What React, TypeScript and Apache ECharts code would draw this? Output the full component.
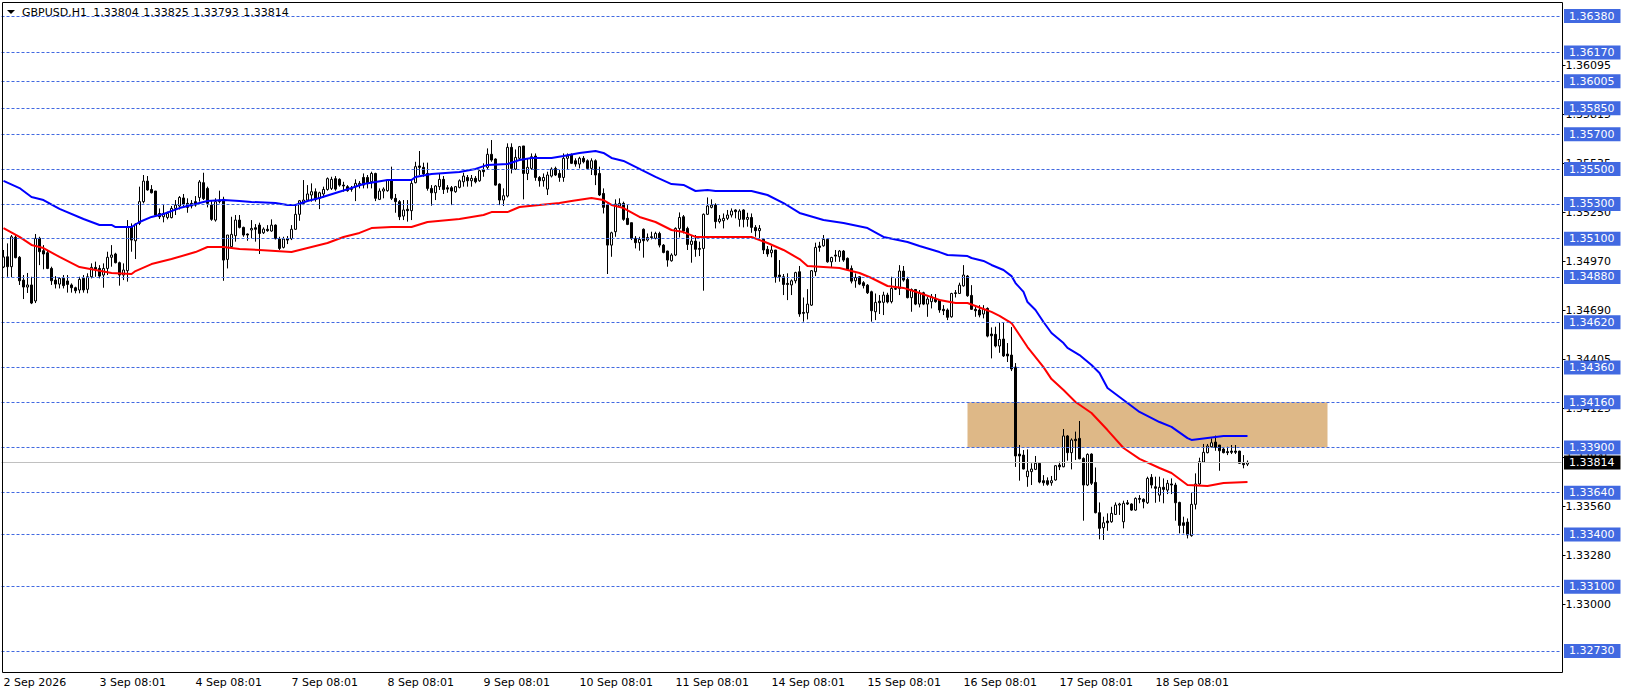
import React, { useEffect, useRef } from "react";
import * as echarts from "echarts";

// one label every 24 hourly bars
const tickLabels = [
  "2 Sep 2026", "3 Sep 08:01", "4 Sep 08:01", "7 Sep 08:01", "8 Sep 08:01", "9 Sep 08:01", "10 Sep 08:01",
  "11 Sep 08:01", "14 Sep 08:01", "15 Sep 08:01", "16 Sep 08:01", "17 Sep 08:01", "18 Sep 08:01",
];
const priceTicks = [1.36095, 1.35815, 1.35535, 1.3525, 1.3497, 1.3469, 1.34405, 1.34125, 1.33845, 1.3356, 1.3328, 1.33];
const levels = [1.3638, 1.3617, 1.36005, 1.3585, 1.357, 1.355, 1.353, 1.351, 1.3488, 1.3462, 1.3436, 1.3416, 1.339, 1.3364, 1.334, 1.331, 1.3273];
const lastPrice = 1.33814;
const titleName = "GBPUSD,H1";
const titleValues = ["1.33804", "1.33825", "1.33793", "1.33814"];
const zoneBars = [241, 331];
const zonePrices = [1.3416, 1.339];

// open, close, low, high
const ohlc = [
  [1.34937,1.34995,1.34931,1.35035],[1.34996,1.34939,1.34881,1.35073],[1.34939,1.35111,1.34879,1.35121],[1.35108,1.34991,1.34987,1.35121],
  [1.34993,1.34858,1.34834,1.35],[1.34862,1.34822,1.34753,1.34891],[1.34822,1.34834,1.34788,1.34903],[1.34834,1.3473,1.34724,1.34881],
  [1.34742,1.35102,1.3473,1.35127],[1.35102,1.35025,1.34948,1.35111],[1.35031,1.35012,1.34924,1.35063],[1.35019,1.34929,1.34925,1.35035],
  [1.34929,1.34858,1.34834,1.34939],[1.34862,1.34839,1.34814,1.34885],[1.34839,1.34872,1.34814,1.34878],[1.34872,1.3483,1.34814,1.34891],
  [1.34857,1.34837,1.3479,1.34891],[1.34834,1.34818,1.3479,1.34843],[1.34818,1.34801,1.34786,1.34824],[1.34805,1.34866,1.34786,1.34881],
  [1.34872,1.34805,1.3479,1.34891],[1.34809,1.34881,1.34786,1.34901],[1.34881,1.34935,1.34872,1.34958],[1.34935,1.34924,1.34881,1.34968],
  [1.34929,1.34885,1.34872,1.34948],[1.34891,1.34929,1.34818,1.34958],[1.34929,1.34993,1.34891,1.35025],[1.34993,1.35006,1.34939,1.35063],
  [1.35012,1.34962,1.34958,1.35019],[1.34962,1.34891,1.3483,1.34968],[1.34891,1.3492,1.34862,1.34958],[1.34916,1.35165,1.34853,1.35207],
  [1.35169,1.35092,1.35025,1.35188],[1.35088,1.35184,1.34983,1.35188],[1.35188,1.35313,1.35178,1.35399],[1.35313,1.35431,1.35303,1.35466],
  [1.35431,1.3538,1.35376,1.3546],[1.35383,1.35364,1.3536,1.35408],[1.35374,1.35236,1.35226,1.35374],[1.35245,1.35226,1.35213,1.35274],
  [1.35226,1.35245,1.35194,1.35293],[1.35222,1.35245,1.35211,1.35255],[1.35221,1.35274,1.35217,1.35288],[1.35274,1.35293,1.35236,1.35322],
  [1.35288,1.35337,1.35268,1.35345],[1.35334,1.35299,1.3528,1.35357],[1.35303,1.3528,1.35249,1.35332],[1.35303,1.35288,1.35274,1.35322],
  [1.35313,1.35293,1.35284,1.35345],[1.35337,1.35426,1.35313,1.35437],[1.35422,1.3533,1.35322,1.35479],[1.35389,1.35303,1.3528,1.35399],
  [1.35293,1.35211,1.35203,1.35322],[1.35207,1.35313,1.35198,1.35332],[1.35313,1.35322,1.35303,1.35376],[1.35326,1.34977,1.34858,1.35341],
  [1.34981,1.35121,1.34929,1.35121],[1.35054,1.35125,1.35044,1.35226],[1.35117,1.35207,1.35083,1.35236],[1.35207,1.35165,1.35159,1.35236],
  [1.35165,1.35121,1.35111,1.35169],[1.35127,1.35121,1.35088,1.3513],[1.3515,1.35159,1.35102,1.35207],[1.35163,1.35154,1.35083,1.35184],
  [1.35178,1.3513,1.35012,1.35192],[1.35134,1.35155,1.35127,1.35165],[1.35154,1.35146,1.3514,1.35178],[1.35144,1.35178,1.3514,1.35211],
  [1.35178,1.351,1.35096,1.35182],[1.35098,1.35044,1.35035,1.35111],[1.3505,1.35098,1.35044,1.35111],[1.351,1.35092,1.35069,1.35115],
  [1.351,1.35154,1.35092,1.35178],[1.35154,1.3524,1.3515,1.35293],[1.3524,1.35318,1.35203,1.35322],[1.35303,1.35322,1.35293,1.35437],
  [1.35322,1.35357,1.35313,1.35408],[1.35351,1.3537,1.35313,1.35418],[1.3537,1.35326,1.35313,1.35389],[1.35332,1.35364,1.3527,1.3537],
  [1.35357,1.35383,1.35337,1.35399],[1.35383,1.35445,1.35376,1.35452],[1.35389,1.35441,1.3538,1.35456],[1.35445,1.35385,1.35376,1.3546],
  [1.35441,1.35408,1.35399,1.35447],[1.35408,1.35403,1.3537,1.35427],[1.35399,1.35376,1.3537,1.35408],[1.35383,1.35389,1.3537,1.35403],
  [1.35399,1.35418,1.35316,1.35441],[1.35408,1.35418,1.35389,1.35431],[1.35452,1.35408,1.35389,1.35475],[1.35452,1.35418,1.35389,1.35466],
  [1.35427,1.35475,1.35389,1.35485],[1.35475,1.35332,1.35316,1.35479],[1.35326,1.35374,1.35322,1.35389],[1.35374,1.35385,1.35332,1.35395],
  [1.35376,1.35437,1.3537,1.35441],[1.35437,1.35332,1.35322,1.35514],[1.35332,1.35313,1.35249,1.35357],[1.35313,1.35226,1.35207,1.35322],
  [1.3523,1.35265,1.35207,1.35322],[1.35269,1.35261,1.35198,1.35322],[1.35261,1.35418,1.35207,1.35433],[1.35422,1.35514,1.35418,1.35542],
  [1.35518,1.3551,1.35466,1.35604],[1.3551,1.35472,1.35456,1.35537],[1.35475,1.35389,1.35376,1.35537],[1.35389,1.35364,1.3529,1.35408],
  [1.35364,1.35403,1.35322,1.35408],[1.35399,1.35441,1.3538,1.35475],[1.35441,1.35383,1.35357,1.3546],[1.35393,1.35385,1.35364,1.35408],
  [1.35393,1.35374,1.35293,1.35403],[1.3537,1.35399,1.35364,1.35403],[1.35395,1.35433,1.35389,1.35441],[1.35427,1.3546,1.35399,1.35479],
  [1.35452,1.35433,1.35399,1.35466],[1.35433,1.35447,1.35399,1.35466],[1.35447,1.35427,1.35418,1.3546],[1.35433,1.35491,1.35427,1.35495],
  [1.35495,1.35485,1.35456,1.35533],[1.3551,1.35585,1.35495,1.35619],[1.35585,1.35552,1.35542,1.35667],[1.35558,1.35408,1.35405,1.35562],
  [1.35414,1.35322,1.35293,1.35418],[1.35322,1.35347,1.35288,1.35389],[1.35345,1.35625,1.35337,1.35648],[1.35625,1.35504,1.35475,1.35648],
  [1.355,1.35567,1.35495,1.35613],[1.35562,1.35629,1.35552,1.35633],[1.35633,1.35475,1.35326,1.35633],[1.35475,1.3551,1.35437,1.35562],
  [1.35504,1.35571,1.35495,1.3559],[1.35575,1.35452,1.35433,1.3559],[1.35452,1.35433,1.35399,1.3546],[1.35433,1.35452,1.35399,1.35475],
  [1.35385,1.35466,1.35351,1.35485],[1.3546,1.355,1.35452,1.3551],[1.35504,1.35466,1.3546,1.35514],[1.35475,1.35452,1.35427,1.35495],
  [1.35452,1.35562,1.35427,1.3559],[1.35562,1.35575,1.35495,1.3559],[1.35581,1.35533,1.35529,1.3559],[1.35548,1.35529,1.35514,1.35562],
  [1.35529,1.35562,1.35504,1.35571],[1.35562,1.35542,1.35533,1.35575],[1.35548,1.35504,1.35495,1.35556],[1.35504,1.35548,1.35466,1.35562],
  [1.35548,1.35466,1.35408,1.35556],[1.35475,1.35351,1.35345,1.35514],[1.3536,1.3528,1.35245,1.35389],[1.35293,1.35063,1.34897,1.35303],
  [1.35063,1.35134,1.34996,1.3514],[1.3514,1.35299,1.35111,1.35326],[1.35288,1.35303,1.3528,1.35332],[1.35303,1.35211,1.35203,1.35313],
  [1.35217,1.35182,1.35178,1.35293],[1.35192,1.35102,1.35092,1.35192],[1.35102,1.35077,1.35044,1.35115],[1.35077,1.35096,1.35031,1.35111],
  [1.35154,1.35088,1.34991,1.35159],[1.35092,1.35107,1.35083,1.3513],[1.35111,1.35107,1.35096,1.3514],[1.35102,1.3513,1.35096,1.3514],
  [1.3513,1.35063,1.3505,1.3514],[1.35063,1.35021,1.35016,1.35069],[1.35029,1.34977,1.34939,1.35031],[1.34973,1.35006,1.34968,1.35016],
  [1.35006,1.35159,1.35,1.35165],[1.35159,1.35222,1.35107,1.35251],[1.35226,1.35144,1.3513,1.35236],[1.35159,1.35067,1.35035,1.35169],
  [1.35067,1.35086,1.34962,1.35121],[1.35086,1.35039,1.34996,1.35121],[1.35044,1.35039,1.35,1.35083],[1.35044,1.3524,1.34801,1.35245],
  [1.3524,1.35288,1.35236,1.35337],[1.3528,1.35293,1.35274,1.35326],[1.35293,1.35198,1.35159,1.35303],[1.35199,1.35213,1.35188,1.35236],
  [1.35203,1.35217,1.35159,1.35245],[1.35217,1.35236,1.35207,1.35265],[1.35236,1.35259,1.35222,1.35274],[1.35265,1.35255,1.35217,1.35269],
  [1.35211,1.35259,1.35169,1.35269],[1.35265,1.35211,1.35165,1.35269],[1.35211,1.35222,1.35169,1.35249],[1.35222,1.35165,1.35134,1.35245],
  [1.35165,1.35146,1.35111,1.35178],[1.35146,1.35159,1.35102,1.35178],[1.35096,1.35035,1.35012,1.35102],[1.35039,1.35012,1.34996,1.35058],
  [1.35019,1.35035,1.34993,1.35058],[1.35035,1.34881,1.34847,1.35035],[1.34891,1.34881,1.34853,1.34977],[1.34881,1.34837,1.34776,1.34897],
  [1.34843,1.34837,1.34747,1.34901],[1.34834,1.34858,1.34776,1.34866],[1.34858,1.34905,1.34843,1.3491],[1.3491,1.34667,1.34651,1.34943],
  [1.34676,1.34671,1.34623,1.34762],[1.34674,1.34724,1.34636,1.3481],[1.34718,1.34916,1.34713,1.3492],[1.3491,1.3505,1.34885,1.35077],
  [1.35058,1.3505,1.35025,1.35082],[1.35059,1.35096,1.35054,1.35121],[1.35096,1.34967,1.34962,1.35102],[1.34967,1.34992,1.34935,1.34996],
  [1.35006,1.35,1.34967,1.35035],[1.34996,1.35029,1.34967,1.35035],[1.35029,1.34977,1.34967,1.35035],[1.34987,1.34923,1.3492,1.34992],
  [1.34929,1.34856,1.34843,1.34946],[1.34858,1.34877,1.34818,1.349],[1.34881,1.34839,1.34833,1.34885],[1.34847,1.3483,1.34814,1.34856],
  [1.34833,1.34789,1.34782,1.34839],[1.34795,1.34686,1.34623,1.34801],[1.3468,1.34734,1.34632,1.34785],[1.34741,1.34732,1.34667,1.34776],
  [1.34734,1.34776,1.34661,1.34795],[1.34776,1.34736,1.34728,1.34789],[1.34738,1.34814,1.34728,1.34881],[1.34814,1.3481,1.34805,1.34872],
  [1.34814,1.34914,1.34776,1.34948],[1.34914,1.34862,1.34853,1.34943],[1.34866,1.34761,1.34757,1.34881],[1.34761,1.34808,1.3468,1.34814],
  [1.34808,1.34724,1.34718,1.3481],[1.34724,1.34785,1.34705,1.34805],[1.34789,1.34724,1.34718,1.34795],[1.34724,1.34753,1.34651,1.34766],
  [1.34738,1.34766,1.34699,1.34782],[1.34757,1.34738,1.34732,1.34782],[1.34747,1.3469,1.34674,1.34751],[1.34694,1.34686,1.34661,1.34718],
  [1.3469,1.34648,1.34632,1.34699],[1.34651,1.34785,1.34646,1.34789],[1.34789,1.34785,1.34762,1.34805],[1.34785,1.34833,1.34782,1.34847],
  [1.34829,1.34891,1.34824,1.34948],[1.34885,1.34772,1.34766,1.34891],[1.34774,1.34694,1.3469,1.34833],[1.34694,1.34686,1.34651,1.34718],
  [1.3469,1.34661,1.34648,1.34718],[1.34667,1.34694,1.34642,1.34718],[1.34699,1.3454,1.34533,1.34705],[1.34552,1.34542,1.34412,1.3459],
  [1.3455,1.34483,1.34475,1.34594],[1.34483,1.34521,1.34444,1.34617],[1.34523,1.34426,1.3442,1.34621],[1.34437,1.34426,1.34391,1.345],
  [1.34431,1.34351,1.34339,1.34592],[1.34362,1.33851,1.33788,1.34385],[1.33862,1.33851,1.33709,1.33914],[1.33856,1.33776,1.33774,1.33885],
  [1.33732,1.33764,1.33674,1.33889],[1.33761,1.33776,1.33684,1.33809],[1.33774,1.33809,1.3377,1.33851],[1.33809,1.33701,1.33694,1.33812],
  [1.33709,1.33697,1.3368,1.33741],[1.33709,1.33688,1.3368,1.33728],[1.33697,1.33709,1.3368,1.33736],[1.33713,1.33795,1.33709,1.33799],
  [1.33799,1.33789,1.3377,1.33818],[1.33789,1.33966,1.33786,1.34006],[1.33966,1.3387,1.33824,1.33971],[1.3387,1.33943,1.33774,1.33952],
  [1.33947,1.33939,1.33828,1.33991],[1.33952,1.33835,1.33832,1.34052],[1.33837,1.33684,1.33479,1.33843],[1.33684,1.3386,1.33678,1.33866],
  [1.33862,1.33694,1.33684,1.33866],[1.33699,1.33525,1.33521,1.33785],[1.33525,1.33435,1.33372,1.33584],[1.33439,1.33467,1.33368,1.33502],
  [1.33477,1.33467,1.33421,1.33521],[1.33473,1.33521,1.33467,1.33559],[1.33515,1.33569,1.33512,1.33584],[1.33569,1.33575,1.33512,1.33582],
  [1.33473,1.33579,1.33435,1.33594],[1.33582,1.33575,1.33569,1.33598],[1.33575,1.3354,1.33536,1.33579],[1.3354,1.33607,1.33536,1.33613],
  [1.33607,1.33602,1.33579,1.33626],[1.33602,1.33588,1.3355,1.33607],[1.33582,1.33722,1.33575,1.33732],[1.33728,1.33684,1.33665,1.33747],
  [1.33674,1.33665,1.33582,1.33732],[1.33626,1.33671,1.33588,1.33732],[1.33671,1.33659,1.33579,1.33722],[1.33655,1.33694,1.33632,1.33713],
  [1.3369,1.33684,1.33632,1.33722],[1.33684,1.33582,1.33479,1.33697],[1.33584,1.33452,1.33406,1.33588],[1.33467,1.33452,1.33406,1.33502],
  [1.33471,1.33397,1.33377,1.33492],[1.33393,1.33573,1.33387,1.3364],[1.33573,1.3369,1.33544,1.33751],[1.3369,1.33818,1.33684,1.33841],
  [1.33816,1.33872,1.33812,1.3392],[1.3387,1.33908,1.33866,1.3392],[1.33904,1.33927,1.339,1.33952],[1.33931,1.339,1.33881,1.33968],
  [1.33914,1.33881,1.33766,1.33914],[1.33891,1.3387,1.33866,1.339],[1.33876,1.3387,1.33856,1.33904],[1.33879,1.33872,1.33862,1.33914],
  [1.33879,1.33872,1.33862,1.33914],[1.33879,1.33809,1.33805,1.33881],[1.33809,1.33801,1.3378,1.33856],[1.33804,1.33814,1.33793,1.33825],
];

// moving averages as [bar, price]
const blueMa = [
  [0,1.35432],[4,1.35391],[7,1.3534],[10,1.35322],[14,1.35271],[20,1.35213],[24,1.35179],[27,1.35179],[28,1.35167],[32,1.35167],
  [34,1.35196],[37,1.35225],[40,1.35242],[44,1.35276],[48,1.35299],[51,1.35317],[55,1.35322],[59,1.35317],[62,1.35311],[68,1.35305],
  [71,1.35294],[73,1.35294],[76,1.35317],[79,1.35334],[83,1.35363],[87,1.35391],[90,1.35414],[93,1.35426],[96,1.35437],[99,1.35437],
  [102,1.35437],[103,1.35455],[107,1.35472],[114,1.35483],[118,1.35501],[121,1.35524],[126,1.35529],[129,1.35552],[132,1.35564],[137,1.35564],
  [140,1.35575],[144,1.35593],[148,1.35604],[150,1.35593],[152,1.35564],[155,1.35547],[159,1.35501],[163,1.35455],[167,1.35414],[170,1.35409],
  [173,1.35374],[176,1.3538],[178,1.35374],[187,1.35374],[191,1.35351],[195,1.35305],[199,1.35248],[205,1.35207],[210,1.3519],[216,1.35161],
  [220,1.3511],[226,1.35081],[229,1.35058],[234,1.35023],[236,1.35006],[241,1.35],[242,1.34989],[245,1.34972],[247,1.34949],[250,1.3492],
  [252,1.34885],[253,1.34845],[255,1.34794],[256,1.34736],[258,1.3469],[260,1.34621],[262,1.34558],[265,1.345],[266,1.34472],[269,1.34431],
  [272,1.34374],[274,1.34328],[276,1.34242],[280,1.34173],[284,1.34104],[289,1.34046],[292,1.34018],[296,1.33954],[297,1.33943],[299,1.33949],
  [305,1.33966],[311,1.33966],
];
const redMa = [
  [0,1.35161],[4,1.3511],[7,1.35064],[10,1.35046],[14,1.34995],[19,1.34937],[23,1.3492],[27,1.34903],[32,1.34897],[33,1.34914],
  [37,1.34954],[42,1.34983],[48,1.35023],[51,1.35052],[55,1.35052],[59,1.35041],[64,1.35035],[68,1.35029],[72,1.35023],[77,1.35052],
  [81,1.35075],[85,1.3511],[89,1.35133],[92,1.35161],[97,1.35167],[102,1.35167],[106,1.35196],[114,1.35213],[120,1.35236],[122,1.35253],
  [126,1.35253],[129,1.35282],[134,1.35294],[139,1.35305],[142,1.35317],[147,1.35334],[150,1.35322],[152,1.35294],[155,1.35276],[159,1.35225],
  [163,1.35196],[167,1.3515],[170,1.35138],[173,1.3511],[177,1.3511],[187,1.3511],[191,1.35075],[195,1.35035],[199,1.34983],[201,1.34943],
  [205,1.34937],[209,1.34931],[214,1.34903],[217,1.34874],[221,1.34828],[225,1.34817],[229,1.34788],[234,1.34748],[238,1.3473],[241,1.3473],
  [245,1.34696],[247,1.34679],[249,1.34656],[252,1.34615],[254,1.34546],[256,1.34477],[260,1.34362],[262,1.34293],[265,1.3423],[268,1.34161],
  [272,1.34098],[276,1.34],[280,1.33897],[284,1.33834],[289,1.33782],[292,1.33753],[296,1.33684],[301,1.33678],[305,1.33696],[311,1.33701],
];

const barSlots = 390; // bars that fit the window, the chart stops short of the right edge
const categories = Array.from({ length: barSlots }, (_, i) => String(i));
const isLabelBar = (i: number) => i % 24 === 0 && i / 24 < tickLabels.length;
const font = "DejaVu Sans";

const App: React.FC = () => {
  const chartRef = useRef<HTMLDivElement>(null);

  useEffect(() => {
    if (!chartRef.current) return;
    document.body.style.margin = "0";

    const chart = echarts.init(chartRef.current, undefined, { renderer: "svg" });

    const option: echarts.EChartsOption = {
      animation: false,
      backgroundColor: "#fff",
      grid: { left: 1.5, top: 2.5, width: 1560, height: 670 },
      xAxis: {
        type: "category",
        data: categories,
        axisLine: { show: false },
        axisTick: { length: 3, alignWithLabel: true, interval: (i: number) => isLabelBar(i), lineStyle: { color: "#000" } },
        axisLabel: {
          interval: (i: number) => isLabelBar(i),
          formatter: (_: string, i: number) => tickLabels[i / 24] ?? "",
          align: "left",
          margin: 4,
          color: "#000",
          fontFamily: font,
          fontSize: 11,
        },
        splitLine: { show: false },
      },
      yAxis: {
        type: "value",
        position: "right",
        offset: 1,
        min: 1.326064,
        max: 1.364576,
        axisLine: { show: false },
        axisTick: { show: true, length: 3, customValues: priceTicks, lineStyle: { color: "#000" } },
        axisLabel: {
          customValues: priceTicks,
          formatter: (v: number) => v.toFixed(5),
          margin: 3,
          color: "#000",
          fontFamily: font,
          fontSize: 11,
        },
        splitLine: { show: false },
      },
      series: [
        {
          name: "Zone",
          type: "line",
          data: [],
          z: 1,
          clip: false,
          silent: true,
          markArea: {
            silent: true,
            itemStyle: { color: "#DEB887", opacity: 1 },
            data: [[{ xAxis: zoneBars[0], yAxis: zonePrices[0] }, { xAxis: zoneBars[1], yAxis: zonePrices[1] }]],
          },
        },
        {
          name: "Levels",
          type: "line",
          data: [],
          z: 2,
          clip: false,
          silent: true,
          markLine: {
            silent: true,
            symbol: "none",
            precision: 5,
            lineStyle: { color: "#4169E1", type: [3, 2], width: 1 },
            label: {
              show: true,
              position: "end",
              distance: 2.5,
              formatter: (p: any) => Number(p.value).toFixed(5),
              color: "#fff",
              backgroundColor: "#4169E1",
              fontFamily: font,
              fontSize: 11,
              lineHeight: 12,
              padding: [2, 6, 0, 5],
            },
            data: [
              ...levels.map((v) => ({ yAxis: v })),
              {
                yAxis: lastPrice,
                lineStyle: { color: "#C0C0C0", type: "solid", width: 1 },
                label: { backgroundColor: "#000", color: "#fff" },
              },
            ],
          },
        },
        {
          name: "GBPUSD",
          type: "candlestick",
          data: ohlc,
          barWidth: 2,
          z: 3,
          itemStyle: { color: "#fff", color0: "#000", borderColor: "#000", borderColor0: "#000", borderWidth: 1 },
        },
        {
          name: "MA slow",
          type: "line",
          data: blueMa,
          z: 4,
          symbol: "none",
          connectNulls: true,
          lineStyle: { color: "#0000FF", width: 2 },
        },
        {
          name: "MA fast",
          type: "line",
          data: redMa,
          z: 4,
          symbol: "none",
          connectNulls: true,
          lineStyle: { color: "#FF0000", width: 2 },
        },
      ],
      graphic: [
        {
          type: "rect",
          z: 10,
          silent: true,
          shape: { x: 2.5, y: 2.5, width: 1560, height: 670 },
          style: { fill: "none", stroke: "#000", lineWidth: 1 },
        },
        {
          type: "polygon",
          z: 10,
          silent: true,
          shape: { points: [[7, 10], [15, 10], [11, 14]] },
          style: { fill: "#000" },
        },
        {
          type: "text",
          z: 10,
          silent: true,
          x: 22,
          y: 12,
          style: { text: titleName, fill: "#000", font: `11px "${font}"`, verticalAlign: "middle" },
        },
        ...titleValues.map((t, i) => ({
          type: "text" as const,
          z: 10,
          silent: true,
          x: 93.3 + i * 50,
          y: 12,
          style: { text: t, fill: "#000", font: `11px "${font}"`, verticalAlign: "middle" as const },
        })),
      ],
    };

    chart.setOption(option);

    return () => {
      chart.dispose();
    };
  }, []);

  return <div ref={chartRef} style={{ position: "absolute", top: 0, left: 0, width: 1626, height: 696 }} />;
};

export default App;
